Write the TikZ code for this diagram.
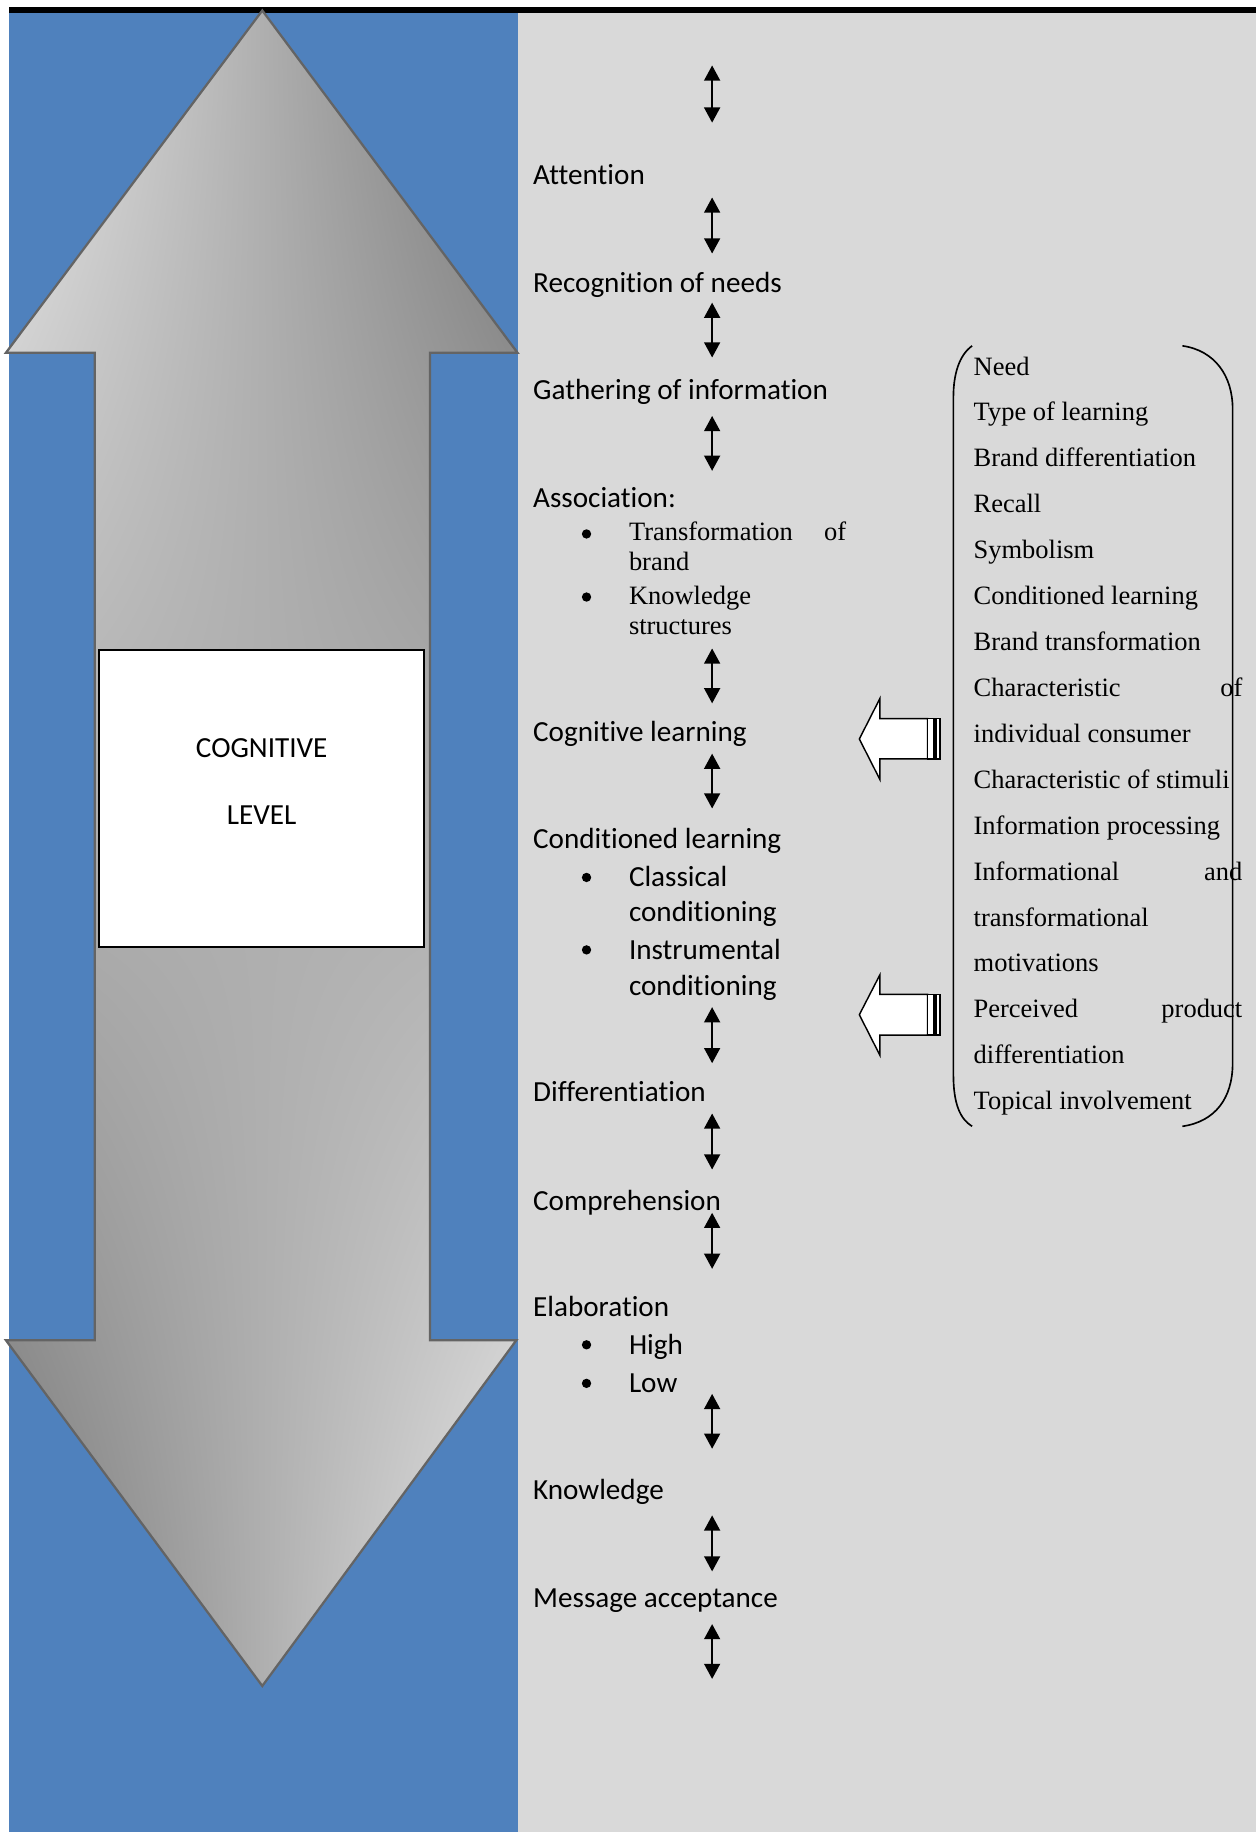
\documentclass[tikz,border=0pt]{standalone}
\usepackage{fontspec}
\setmainfont{Liberation Serif}
\setsansfont{Carlito}[Ligatures=NoCommon]
\usetikzlibrary{arrows.meta,shadings}

\definecolor{panelblue}{RGB}{79,129,189}
\definecolor{panelgray}{RGB}{217,217,217}
\definecolor{arrowlight}{RGB}{236,236,236}
\definecolor{arrowdark}{RGB}{114,114,114}
\definecolor{arrowedge}{RGB}{100,100,100}

\newcommand{\stagefont}{\sffamily\fontsize{14.2pt}{17pt}\selectfont}
\newcommand{\factorfont}{\rmfamily\fontsize{12.9pt}{15pt}\selectfont}

\tikzset{
  stage/.style={anchor=base west, inner sep=0pt, font=\stagefont},
  factor/.style={anchor=base west, inner sep=0pt, font=\factorfont},
  updown/.style={{Triangle[length=0.26cm,width=0.27cm]}-{Triangle[length=0.26cm,width=0.27cm]}, line width=1.1pt},
  blockarrow/.style={draw=black, fill=white, line width=0.7pt},
}

\begin{document}
\begin{tikzpicture}[x=0.02cm, y=-0.02cm]
\useasboundingbox (0,0) rectangle (1075,1568);
% panels
\fill[black] (8,5.7) rectangle (1075,11);
\fill[panelblue] (8,11) rectangle (443,1568);
\fill[panelgray] (443,11) rectangle (1075,1568);

% big double arrow
\shadedraw[draw=arrowedge, line width=1.1pt,
    upper left=arrowlight, upper right=arrowdark,
    lower left=arrowdark, lower right=arrowlight]
  (224.5,9) -- (443,302) -- (368,302) -- (368,1147) -- (442,1147) -- (224.5,1443)
  -- (5,1147) -- (81,1147) -- (81,302) -- (5,302) -- cycle;
\node[draw=black, fill=white, line width=1pt, minimum width=5.55cm, minimum height=5.09cm] (box) at (223.8,683.2) {};
\node[font=\stagefont, inner sep=0pt] (cog) at (224,640) {COGNITIVE};
\node[font=\stagefont, inner sep=0pt] (lev) at (224,698) {LEVEL};

% stages
\node[stage] (attn) at (456,158) {Attention};
\node[stage] (recog) at (456,250) {Recognition of needs};
\node[stage] (gather) at (456,342) {Gathering of information};
\node[stage] (assoc) at (456,434) {Association:};
\node[factor] (assoc1) at (538,463) {\makebox[3.72cm][s]{Transformation of}};
\node[factor] (assoc1b) at (538,488) {brand};
\node[factor] (assoc2) at (538,517) {Knowledge};
\node[factor] (assoc2b) at (538,543) {structures};
\node[stage] (cogn) at (456,635) {Cognitive learning};
\node[stage] (cond) at (456,726) {Conditioned learning};
\node[stage] (cond1) at (538,759) {Classical};
\node[stage] (cond1b) at (538,789) {conditioning};
\node[stage] (cond2) at (538,821) {Instrumental};
\node[stage] (cond2b) at (538,852) {conditioning};
\node[stage] (diff) at (456,943) {Differentiation};
\node[stage] (compr) at (456,1036) {Comprehension};
\node[stage] (elab) at (456,1127) {Elaboration};
\node[stage] (high) at (538,1159) {High};
\node[stage] (low) at (538,1192) {Low};
\node[stage] (know) at (456,1283) {Knowledge};
\node[stage] (accept) at (456,1376) {Message acceptance};

% bullets
\foreach \by in {457,511,751,813,1151,1184}
  \fill (502,\by) circle (0.08cm);

% small double arrows
\foreach \ya/\yb in {56/105,169/217,259/306,356/403,555/602,645/692,862/910,953/1001,1038/1086,1193/1240,1297/1345,1390/1437}
  \draw[updown] (609.5,\ya) -- (609.5,\yb);

% factors
\foreach \txt [count=\i from 0] in {Need, Type of learning, Brand differentiation, Recall, Symbolism,
    Conditioned learning, Brand transformation, {\makebox[4.6cm][s]{Characteristic of}},
    individual consumer, Characteristic of stimuli, Information processing,
    {\makebox[4.6cm][s]{Informational and}}, transformational, motivations,
    {\makebox[4.6cm][s]{Perceived product}}, differentiation, Topical involvement}
  \node[factor] (f\i) at (833,{321+39.3*\i}) {\txt};

% bracket
\draw[line width=0.8pt] (832,296) .. controls (821,304) and (816,320) .. (816,340) -- (816,920)
  .. controls (816,945) and (822,958) .. (832,964);
\draw[line width=0.8pt] (1012,296) .. controls (1040,300) and (1055,322) .. (1055,350) -- (1055,910)
  .. controls (1055,940) and (1040,960) .. (1012,964);

% block arrows
\draw[blockarrow] (794,615) -- (753,615) -- (753,598) -- (735.5,632.5) -- (753,667) -- (753,649.5) -- (794,649.5) -- cycle;
\draw[blockarrow] (794,615) rectangle (799.5,649.5);
\draw[blockarrow] (801,615) rectangle (804.5,649.5);
\draw[blockarrow] (794,851) -- (753,851) -- (753,834.5) -- (735.5,868.5) -- (753,903) -- (753,886) -- (794,886) -- cycle;
\draw[blockarrow] (794,851) rectangle (799.5,886);
\draw[blockarrow] (801,851) rectangle (804.5,886);
\end{tikzpicture}
\end{document}
